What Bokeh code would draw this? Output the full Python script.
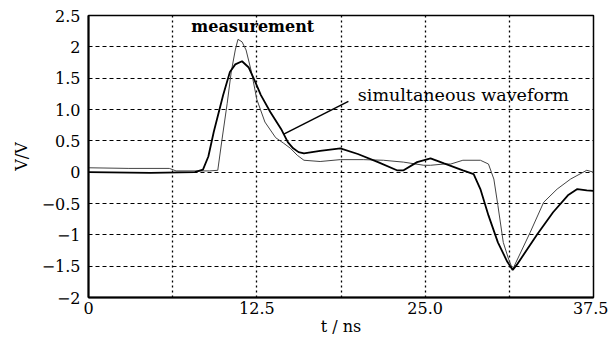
import numpy as np
from bokeh.plotting import figure
from bokeh.models import FixedTicker, Range1d, Label
from bokeh.embed import file_html
from bokeh.resources import INLINE

# measurement (thin trace)
t_meas = [0.0, 3.0, 6.0, 6.5, 9.0, 9.6, 9.9, 10.3, 10.6, 10.9, 11.1, 11.4, 11.7, 12.1, 12.5,
          13.1, 13.9, 14.5, 15.0, 15.5, 16.0, 17.2, 18.7, 20.4, 21.9, 23.4, 24.9, 25.4,
          26.4, 26.9, 27.8, 29.1, 29.7, 30.1, 30.4, 30.8, 31.2, 31.5, 32.8, 33.8, 34.8,
          35.8, 37.0, 37.5]
v_meas = [0.07, 0.06, 0.06, 0.02, 0.02, 0.03, 0.5, 1.1, 1.6, 1.95, 2.12, 2.08, 1.95, 1.6, 1.16,
          0.8, 0.55, 0.46, 0.38, 0.27, 0.19, 0.17, 0.2, 0.2, 0.19, 0.16, 0.11, 0.11,
          0.13, 0.13, 0.19, 0.19, 0.13, -0.11, -0.53, -1.12, -1.39, -1.55, -0.96, -0.48, -0.27,
          -0.11, 0.03, 0.0]

# simulation (thick trace)
t_sim = [0.0, 4.6, 7.9, 8.5, 8.9, 9.3, 10.0, 10.5, 10.9, 11.4, 11.9, 12.3, 12.8, 13.5, 14.3,
         14.8, 15.2, 15.6, 16.0, 17.2, 18.7, 20.0, 21.5, 22.9, 23.4, 24.4, 25.4, 26.4, 27.8,
         28.6, 29.1, 29.7, 30.4, 31.1, 31.5, 31.8, 33.3, 34.5, 35.6, 36.3, 37.0, 37.5]
v_sim = [0.0, -0.01, 0.0, 0.04, 0.25, 0.64, 1.23, 1.6, 1.72, 1.77, 1.67, 1.48, 1.23, 0.96, 0.69,
         0.48, 0.38, 0.32, 0.30, 0.34, 0.38, 0.29, 0.16, 0.03, 0.03, 0.16, 0.22, 0.14, 0.03,
         -0.03, -0.27, -0.69, -1.12, -1.43, -1.56, -1.48, -1.0, -0.64, -0.37, -0.27, -0.29, -0.30]

x_ticks = [0, 12.5, 25, 37.5]
x_tick_labels = ["0", "12.5", "25.0", "37.5"]
x_grid = [6.25, 12.5, 18.75, 25, 31.25]
y_ticks = [-2, -1.5, -1, -0.5, 0, 0.5, 1, 1.5, 2, 2.5]
y_tick_labels = ["\u22122", "\u22121.5", "\u22121", "\u22120.5", "0", "0.5", "1.0", "1.5", "2", "2.5"]
y_grid = [-1.5, -1, -0.5, 0, 0.5, 1, 1.5, 2]

FONT = "DejaVu Serif"

p = figure(frame_width=505, frame_height=282, output_backend="svg", toolbar_location=None,
           x_range=Range1d(0, 37.5), y_range=Range1d(-2, 2.5),
           min_border_left=88, min_border_top=15, min_border_right=15, min_border_bottom=40)
p.background_fill_color = "white"
p.border_fill_color = "white"
p.outline_line_color = "black"
p.outline_line_width = 1.5

p.xaxis.ticker = FixedTicker(ticks=x_ticks)
p.xaxis.major_label_overrides = {t: l for t, l in zip(x_ticks, x_tick_labels)}
p.yaxis.ticker = FixedTicker(ticks=y_ticks)
p.yaxis.major_label_overrides = {t: l for t, l in zip(y_ticks, y_tick_labels)}
p.xgrid.ticker = FixedTicker(ticks=x_grid)
p.ygrid.ticker = FixedTicker(ticks=y_grid)

p.xgrid.grid_line_color = "black"
p.xgrid.grid_line_dash = "2 3"
p.xgrid.grid_line_width = 1.3
p.ygrid.grid_line_color = "black"
p.ygrid.grid_line_dash = "4 3"
p.ygrid.grid_line_width = 1.2

for ax in (p.xaxis[0], p.yaxis[0]):
    ax.axis_line_color = "black"
    ax.axis_line_width = 2
    ax.major_tick_in = 0
    ax.major_tick_out = 0
    ax.minor_tick_in = 0
    ax.minor_tick_out = 0
    ax.major_label_text_font = FONT
    ax.major_label_text_font_size = "16px"
    ax.major_label_text_color = "black"
    ax.axis_label_text_font = FONT
    ax.axis_label_text_font_size = "16px"
    ax.axis_label_text_font_style = "normal"
    ax.axis_label_text_color = "black"

p.xaxis.major_label_standoff = 4
p.xaxis.axis_label = "t / ns"
p.xaxis.axis_label_standoff = 0
p.yaxis.major_label_standoff = 8
p.yaxis.axis_label = "V/V"
p.yaxis.axis_label_standoff = 8

p.line(t_meas, v_meas, line_color="#444444", line_width=1.0)
p.line(t_sim, v_sim, line_color="black", line_width=1.8)

# annotation pointer to simulated curve
ptr_t0, ptr_v0 = 19.3, 1.13
ptr_t1 = 14.5
ptr_v1 = float(np.interp(ptr_t1, t_sim, v_sim))
p.segment(x0=[ptr_t0], y0=[ptr_v0], x1=[ptr_t1], y1=[ptr_v1], line_color="black", line_width=1.5)

p.add_layout(Label(x=12.2, y=2.33, text="measurement", text_font=FONT, text_font_size="16px",
                   text_font_style="bold", text_align="center", text_baseline="middle",
                   text_color="black"))
p.add_layout(Label(x=20.0, y=1.23, text="simultaneous waveform", text_font=FONT,
                   text_font_size="17.5px", text_align="left", text_baseline="middle",
                   text_color="black"))

open("out.html", "w").write(file_html(p, INLINE))
